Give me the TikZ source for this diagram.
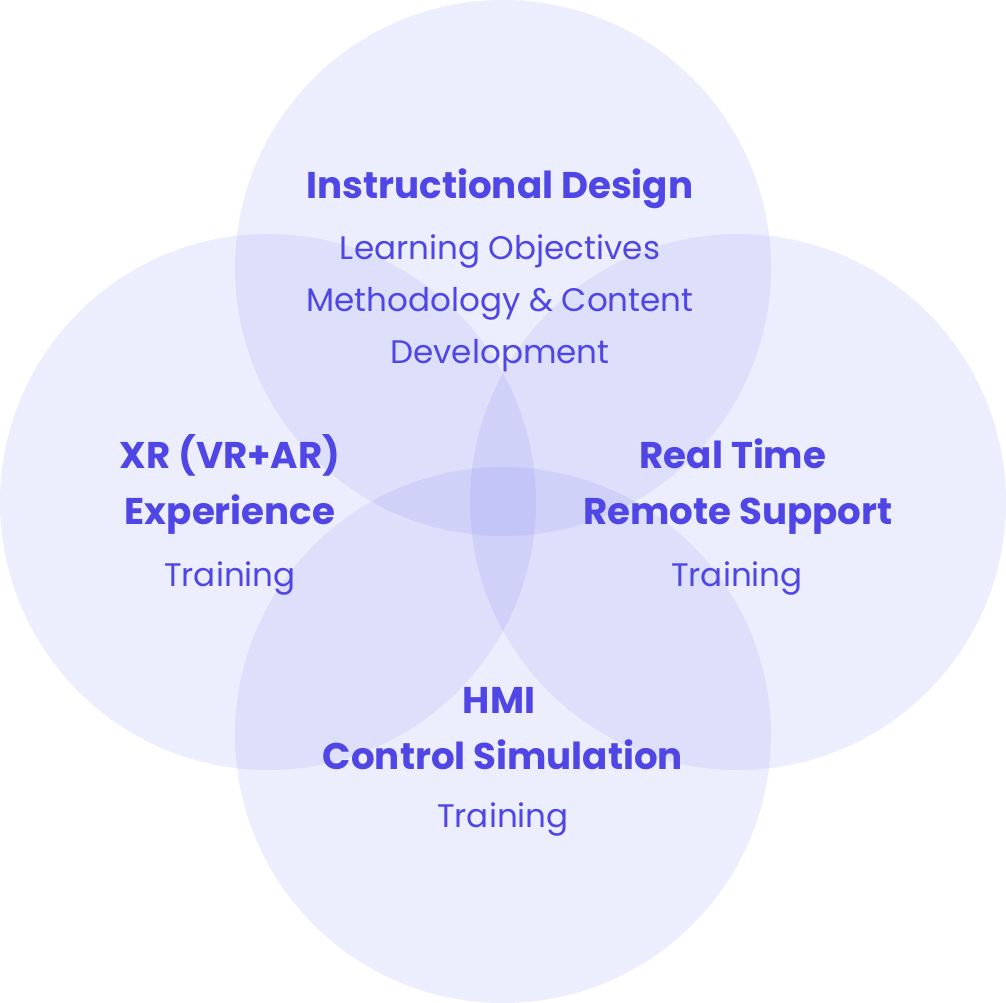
\documentclass[tikz,border=0pt]{standalone}
\usepackage{fontspec}
\setmainfont{Poppins}
\definecolor{txt}{RGB}{79,70,229}
\definecolor{circ}{RGB}{99,102,241}
\begin{document}
\begin{tikzpicture}[x=1pt,y=-1pt,
  venn/.style={fill=circ,fill opacity=0.11,draw=none},
  head/.style={text=txt,anchor=base,font=\fontsize{37.2}{40}\selectfont\bfseries,inner sep=0pt},
  body/.style={text=txt,anchor=base,font=\fontsize{32.6}{36}\selectfont,inner sep=0pt}]
\useasboundingbox (0,0) rectangle (1006,1003);
\fill[white] (0,0) rectangle (1006,1003);
\path[venn] (503,268) circle[radius=268pt];
\path[venn] (268,502) circle[radius=268pt];
\path[venn] (738,502) circle[radius=268pt];
\path[venn] (503,735) circle[radius=268pt];
\node[head] (t1) at (500,198) {Instructional Design};
\node[body] (t2) at (500,259) {Learning Objectives};
\node[body] (t3) at (500,311) {Methodology \& Content};
\node[body] (t4) at (500,363) {Development};
\node[head] (l1) at (230,468) {XR (VR+AR)};
\node[head] (l2) at (230,524) {Experience};
\node[body] (l3) at (230,586) {Training};
\node[head] (r1) at (733,468) {Real Time};
\node[head] (r2) at (738,524) {Remote Support};
\node[body] (r3) at (737,586) {Training};
\node[head] (b1) at (499,713) {HMI};
\node[head] (b2) at (503,769) {Control Simulation};
\node[body] (b3) at (503,827) {Training};
\end{tikzpicture}
\end{document}
